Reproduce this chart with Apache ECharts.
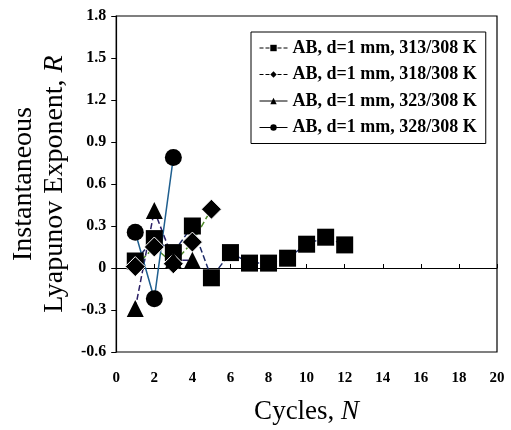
<!DOCTYPE html>
<html>
<head>
<meta charset="utf-8">
<script src="https://cdn.jsdelivr.net/npm/echarts@6/dist/echarts.min.js"></script>
<style>
  html, body { margin: 0; padding: 0; background: #fff; }
  #chart { width: 511px; height: 430px; }
</style>
</head>
<body>
<div id="chart"></div>
<script>
// values (cycle N, exponent R)
const cycles313 = [1, 2, 3, 4, 5, 6, 7, 8, 9, 10, 11, 12]
const r313 = [0.05, 0.21, 0.11, 0.30, -0.07, 0.11, 0.035, 0.035, 0.07, 0.17, 0.22, 0.165]

const cycles318 = [1, 2, 3, 4, 5]
const r318 = [0.01, 0.15, 0.03, 0.185, 0.42]

const cycles323 = [1, 2, 3, 4]
const r323 = [-0.29, 0.41, 0.055, 0.055]

const cycles328 = [1, 2, 3]
const r328 = [0.255, -0.22, 0.79]

const names = [
  'AB, d=1 mm, 313/308 K',
  'AB, d=1 mm, 318/308 K',
  'AB, d=1 mm, 323/308 K',
  'AB, d=1 mm, 328/308 K',
]

const serif = 'Liberation Serif'

function pairs(xs, ys) {
  return xs.map((x, i) => [x, ys[i]])
}

const chart = echarts.init(document.getElementById('chart'), null, { renderer: 'canvas' })

const lineSeries = (name, data, symbol, lineColor, lineType) => ({
  name,
  type: 'line',
  data,
  symbol,
  symbolSize: symbol === 'diamond' ? 20 : 17,
  showAllSymbol: true,
  itemStyle: { color: '#000', borderColor: symbol === 'diamond' ? '#fff' : '#000', borderWidth: symbol === 'diamond' ? 1 : 0 },
  lineStyle: { color: lineColor, width: 1.5, type: lineType },
  emphasis: { disabled: true },
  animation: false,
})

chart.setOption({
  backgroundColor: '#fff',
  grid: {
    left: 112,
    right: 14,
    top: 16,
    bottom: 77,
    show: true,
    borderColor: '#000',
    borderWidth: 1.2,
    backgroundColor: 'transparent',
  },
  legend: {
    orient: 'vertical',
    left: 251,
    top: 32,
    padding: [6, 9, 6, 8],
    itemGap: 6.5,
    itemWidth: 28,
    itemHeight: 8,
    borderColor: '#000',
    borderWidth: 1,
    backgroundColor: '#fff',
    selectedMode: false,
    textStyle: { fontFamily: serif, fontWeight: 'bold', fontSize: 18, color: '#000', lineHeight: 20 },
    data: [
      { name: names[0], itemStyle: { color: '#000', borderWidth: 0 }, lineStyle: { color: '#000', type: 'dashed', width: 1 } },
      { name: names[1], itemStyle: { color: '#000', borderWidth: 0 }, lineStyle: { color: '#000', type: 'dashed', width: 1 } },
      { name: names[2], itemStyle: { color: '#000', borderWidth: 0 }, lineStyle: { color: '#000', type: 'solid', width: 1 } },
      { name: names[3], itemStyle: { color: '#000', borderWidth: 0 }, lineStyle: { color: '#000', type: 'solid', width: 1 } },
    ],
  },
  xAxis: [
    {
      type: 'value',
      min: 0,
      max: 20,
      interval: 2,
      axisLine: { show: false, onZero: false },
      axisTick: { show: false },
      splitLine: { show: false },
      axisLabel: { fontFamily: serif, fontWeight: 'bold', fontSize: 15, color: '#000', margin: 19 },
      name: 'Cycles, {i|N}',
      nameLocation: 'middle',
      nameGap: 46,
      nameTextStyle: {
        fontFamily: serif,
        fontSize: 27,
        color: '#000',
        rich: { i: { fontFamily: serif, fontStyle: 'italic', fontSize: 27, color: '#000' } },
      },
    },
    {
      // zero line with small ticks
      type: 'value',
      min: 0,
      max: 20,
      interval: 2,
      axisLine: { show: true, onZero: true, lineStyle: { color: '#000', width: 1.2 } },
      axisTick: { show: true, inside: false, length: 4, lineStyle: { color: '#000' } },
      axisLabel: { show: false },
      splitLine: { show: false },
    },
  ],
  yAxis: {
    type: 'value',
    min: -0.6,
    max: 1.8,
    interval: 0.3,
    axisLine: { show: true, onZero: false, lineStyle: { color: '#000', width: 1.2 } },
    axisTick: { show: true, inside: false, length: 5, lineStyle: { color: '#000' } },
    splitLine: { show: false },
    axisLabel: { fontFamily: serif, fontWeight: 'bold', fontSize: 16, color: '#000', margin: 10 },
    name: 'Instantaneous\nLyapunov Exponent, {i|R}',
    nameLocation: 'middle',
    nameGap: 44,
    nameTextStyle: {
      fontFamily: serif,
      fontSize: 28,
      lineHeight: 31,
      color: '#000',
      rich: { i: { fontFamily: serif, fontStyle: 'italic', fontSize: 28, lineHeight: 31, color: '#000' } },
    },
  },
  series: [
    lineSeries(names[0], pairs(cycles313, r313), 'rect', '#1c2a66', 'dashed'),
    lineSeries(names[1], pairs(cycles318, r318), 'diamond', '#4f8a2a', 'dashed'),
    lineSeries(names[2], pairs(cycles323, r323), 'triangle', '#2a1f66', 'dashed'),
    lineSeries(names[3], pairs(cycles328, r328), 'circle', '#1f5f8f', 'solid'),
  ],
})
</script>
</body>
</html>
